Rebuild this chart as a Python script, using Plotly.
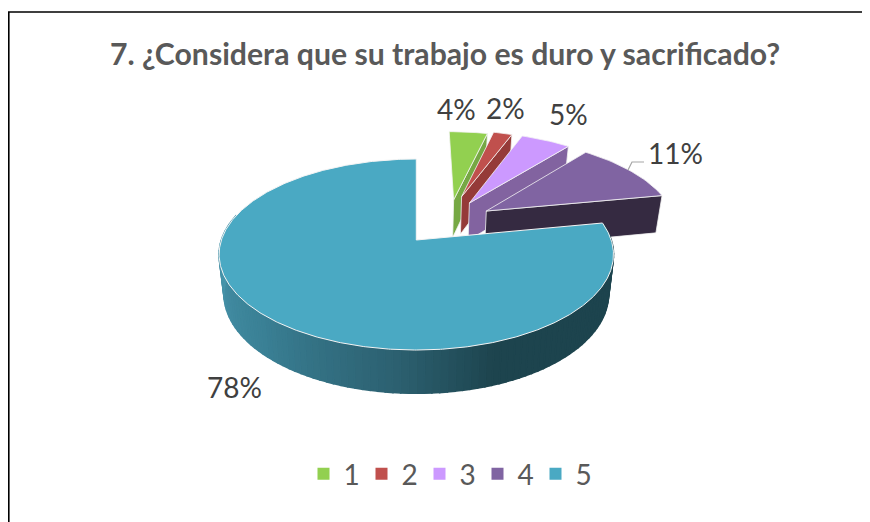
import math
import plotly.graph_objects as go

# ---- data ----
categories = ["1", "2", "3", "4", "5"]
values = [4, 2, 5, 11, 78]
labels = ["4%", "2%", "5%", "11%", "78%"]
title_text = "7. ¿Considera que su trabajo es duro y sacrificado?"

# ---- styles ----
top_colors = ["#92d050", "#c0504d", "#cc99ff", "#8064a2", "#4aa9c3"]
side_colors = ["#76a844", "#953a38", "#8263a0", "#352a41", "#1d444e"]
FONT = "Lato"
TEXT = "#404040"

# the page has an 8px body margin: the figure covers x 8..870, y 8..522 of the window
W, H, OFF = 862, 514, 8

# ---- pseudo-3D projection of the pie plane onto the page ----
X0, Y0, BX, AY, K, DEPTH, SHRINK = 416.3, 240, 194.9, 93.3, 0.152, 39, 0.975
explode = [(0.205, 0.46), (0.25, 0.50), (0.29, 0.422), (0.377, 0.326), (0, 0)]
radius = [0.95, 0.93, 0.99, 1.0, 1.0]


def project(u, v, low=False):
    s = 1 / (1 + K * v)
    q = SHRINK if low else 1
    x = X0 + BX * u * s * q
    y = Y0 - AY * v * s * q + (DEPTH * s if low else 0)
    return x, y


def wedge_points(i, a0, a1, low=False, n=60):
    ex, ey = explode[i]
    r = radius[i]
    pts = [project(ex, ey, low)]
    steps = max(2, int(n * (a1 - a0) / 100) + 2)
    for j in range(steps + 1):
        a = math.radians(a0 + (a1 - a0) * j / steps)
        pts.append(project(ex + r * math.sin(a), ey + r * math.cos(a), low))
    return pts


def polygon(fig, pts, fill, line="#ffffff", width=1.0):
    fig.add_trace(go.Scatter(
        x=[p[0] for p in pts] + [pts[0][0]],
        y=[p[1] for p in pts] + [pts[0][1]],
        mode="lines", fill="toself", fillcolor=fill,
        line=dict(color=line, width=width),
        hoverinfo="skip", showlegend=False))


fig = go.Figure()

total = sum(values)
angles = [0]
for val in values:
    angles.append(angles[-1] + 360 * val / total)

# frame of the original picture
fig.add_trace(go.Scatter(x=[8.8, 8.8, 870], y=[522, 12, 12], mode="lines",
                         line=dict(color="#000000", width=1.6),
                         hoverinfo="skip", showlegend=False))

# exploded slices, back to front
for i in range(4):
    a0, a1 = angles[i], angles[i + 1]
    ex, ey = explode[i]
    r = radius[i]
    ae = math.radians(a1)
    tip = (ex + r * math.sin(ae), ey + r * math.cos(ae))
    wall = [project(ex, ey), project(*tip), project(*tip, True), project(ex, ey, True)]
    polygon(fig, wall, side_colors[i], line="#f2f2f2", width=0.8)
    polygon(fig, wedge_points(i, a0, a1), top_colors[i], line="#f4f4f4", width=0.8)

# big slice: shaded front wall
stops = [(90, (29, 68, 78)), (160, (29, 68, 78)), (185, (44, 96, 112)),
         (225, (58, 128, 149)), (272, (72, 150, 172))]


def wall_color(a):
    if a <= stops[0][0]:
        c = stops[0][1]
    elif a >= stops[-1][0]:
        c = stops[-1][1]
    else:
        for (a0, c0), (a1, c1) in zip(stops, stops[1:]):
            if a0 <= a <= a1:
                t = (a - a0) / (a1 - a0)
                c = tuple(c0[k] + (c1[k] - c0[k]) * t for k in range(3))
                break
    return "rgb(%d,%d,%d)" % tuple(round(v) for v in c)


A_START, A_END, STEP = 80, 285, 2
a = A_START
while a < A_END:
    b = a + STEP
    pu = [(math.sin(math.radians(t)), math.cos(math.radians(t))) for t in (a, b)]
    quad = [project(*pu[0]), project(*pu[1]), project(*pu[1], True), project(*pu[0], True)]
    col = wall_color(a + STEP / 2)
    polygon(fig, quad, col, line=col, width=1.6)
    a = b

# big slice: top face
polygon(fig, wedge_points(4, angles[4], 360, n=200), top_colors[4], line="#f4f4f4", width=1.0)

# leader line of the 11% label
fig.add_trace(go.Scatter(x=[628, 632, 644], y=[170, 162, 162], mode="lines",
                         line=dict(color="#a6a6a6", width=1.2),
                         hoverinfo="skip", showlegend=False))

# legend entries
for name, col in zip(categories, top_colors):
    fig.add_trace(go.Scatter(x=[None], y=[None], mode="markers", name=name,
                             marker=dict(symbol="square", size=12, color=col),
                             hoverinfo="skip"))

label_xy = [(456, 109), (505, 108), (568, 114), (675, 153), (234, 387)]
annotations = [dict(x=x, y=y, text=t, showarrow=False, xref="x", yref="y",
                    xanchor="center", yanchor="middle",
                    font=dict(family=FONT, size=28, color=TEXT))
               for (x, y), t in zip(label_xy, labels)]

fig.update_layout(
    width=W, height=H, margin=dict(l=0, r=0, t=0, b=0),
    paper_bgcolor="white", plot_bgcolor="white",
    title=dict(text="<b>" + title_text + "</b>", x=(445 - OFF) / W, xanchor="center",
               y=1 - (54 - OFF) / H, yanchor="middle",
               font=dict(family=FONT, size=30.2, color="#595959")),
    xaxis=dict(range=[OFF, 870], visible=False, fixedrange=True),
    yaxis=dict(range=[522, OFF], visible=False, fixedrange=True),
    annotations=annotations,
    showlegend=True,
    legend=dict(orientation="h", x=(448.5 - OFF) / W, xanchor="center",
                y=1 - (474 - OFF) / H, yanchor="middle",
                font=dict(family=FONT, size=28, color="#595959"),
                itemwidth=30, entrywidth=13, entrywidthmode="pixels",
                bgcolor="rgba(0,0,0,0)"),
)

fig.write_html("out.html")
